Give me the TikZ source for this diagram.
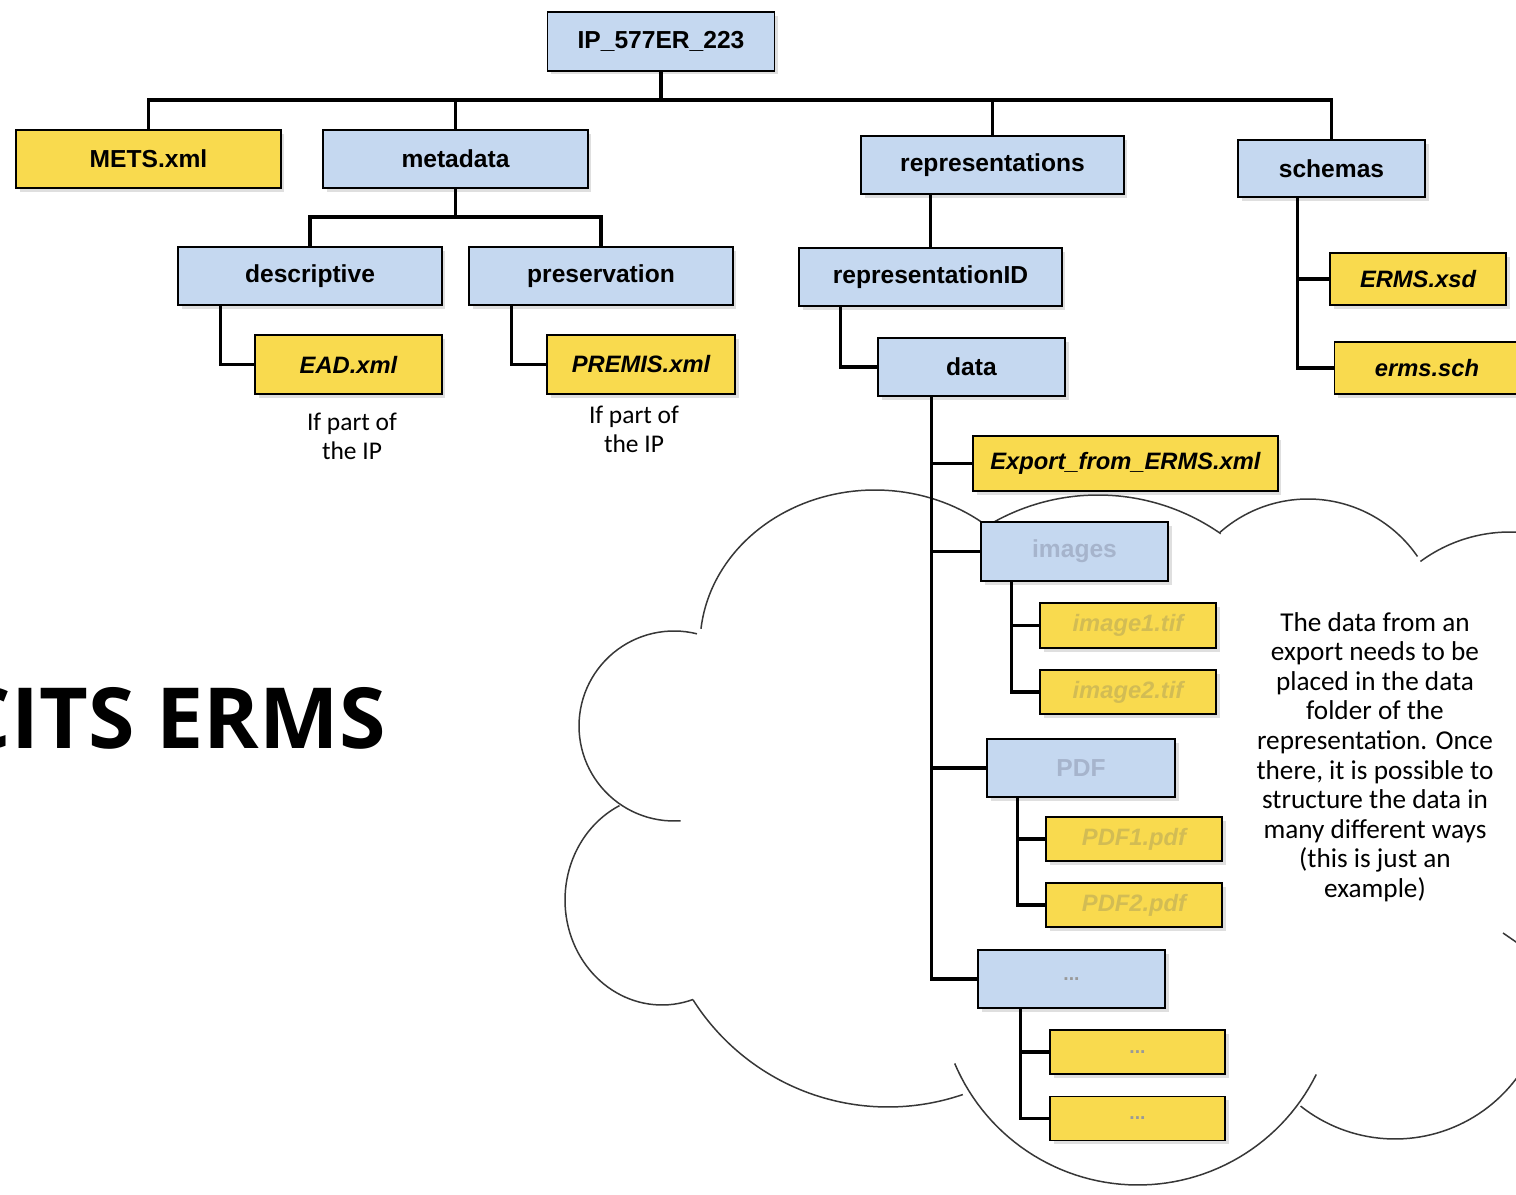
\documentclass[tikz,border=0pt]{standalone}
\usepackage{fontspec}
\usepackage{tikz}
\usetikzlibrary{positioning,calc,shadows}
\newfontfamily\boxfont{Liberation Sans}
\newfontfamily\notefont{Carlito}
\newfontfamily\titlefont{Open Sans}
\definecolor{dirblue}{RGB}{197,216,240}
\definecolor{fileyellow}{RGB}{249,218,78}
\definecolor{fadeblue}{RGB}{166,180,204}
\definecolor{fadeyellow}{RGB}{210,188,84}
\definecolor{cloudgray}{RGB}{55,55,55}
\tikzset{
	box/.style={draw=black, line width=1pt, minimum height=1.16cm, inner sep=0,
		font=\boxfont\bfseries\fontsize{14}{16}\selectfont,
		drop shadow={shadow xshift=2pt, shadow yshift=-2pt, opacity=0.25}},
	dir/.style={box, fill=dirblue},
	file/.style={box, fill=fileyellow, font=\boxfont\bfseries\itshape\fontsize{13.5}{16}\selectfont},
	fadeddir/.style={text=fadeblue},
	fadedfile/.style={text=fadeyellow},
	dots/.style={font=\boxfont\bfseries\fontsize{11}{12}\selectfont, text=black!40},
	link/.style={line width=1.8pt},
	note/.style={align=center, inner sep=0, font=\notefont\fontsize{14.5}{16.5}\selectfont},
	cloudline/.style={draw=cloudgray, line width=0.85pt}
}
\newcommand{\drawdir}{\node[dir]}
\newcommand{\drawfile}{\node[file]}
% one lobe of the cloud: centre x, centre y, radius x, radius y, from angle, to angle
\newcommand{\drawlobe}[6]{\draw[cloudline] plot[domain=#5:#6, samples=60, variable=\t] ({#1+#3*cos(\t)},{#2+#4*sin(\t)});}

\begin{document}
\begin{tikzpicture}[x=0.02cm, y=-0.02cm]
	\useasboundingbox[fill=white] (0,0) rectangle (1516,1195);
	
	% cloud behind the data folder
	\drawlobe{674}{726}{95}{95}{-274}{-76}
	\drawlobe{662}{900}{97}{105}{71.4}{244}
	\drawlobe{875}{645}{175}{155}{186}{312}
	\drawlobe{1098}{709}{214}{214}{238}{305}
	\drawlobe{1308}{632}{133}{133}{228.5}{325.4}
	\drawlobe{1510}{683}{151}{151}{233.6}{330}
	\drawlobe{1395}{987}{152}{152}{0}{128.4}
	\drawlobe{1138}{986}{199}{199}{26.4}{157.1}
	\drawlobe{888}{876}{231}{231}{71.1}{147.6}
	\draw[cloudline] (1503,933) -- (1532,953);
	
	\drawdir (root) at (661,41.5) [minimum width=4.54cm, minimum height=1.18cm] {IP\_577ER\_223};
	\drawfile (mets) at (148.5,159) [minimum width=5.3cm, font=\boxfont\bfseries\fontsize{14}{16}\selectfont] {METS.xml};
	\drawdir (metadata) at (455.5,159) [minimum width=5.3cm] {metadata};
	\drawdir (reps) at (992.5,165) [minimum width=5.26cm] {representations};
	\drawdir (schemas) at (1331.5,168.5) [minimum width=3.74cm, minimum height=1.14cm] {schemas};
	
	\drawdir (descr) at (310,276) [minimum width=5.28cm] {descriptive};
	\drawdir (pres) at (601,276) [minimum width=5.28cm] {preservation};
	\drawfile (ead) at (348.5,364.5) [minimum width=3.74cm, minimum height=1.18cm] {EAD.xml};
	\drawfile (premis) at (641,364.5) [minimum width=3.76cm, minimum height=1.18cm] {PREMIS.xml};
	\node[note] (ifead) at (352,436) {If part of\\the IP};
	\node[note] (ifpremis) at (634,429) {If part of\\the IP};
	
	\drawdir (repid) at (930.5,277) [minimum width=5.26cm] {representationID};
	\drawdir (data) at (971.5,367) [minimum width=3.74cm] {data};
	\drawfile (xsd) at (1418,279) [minimum width=3.52cm, minimum height=1.04cm] {ERMS.xsd};
	\drawfile (sch) at (1427,368) [minimum width=3.7cm, minimum height=1.04cm] {erms.sch};
	
	\drawfile (export) at (1125.5,463.5) [minimum width=6.1cm, minimum height=1.1cm] {Export\_from\_ERMS.xml};
	\drawdir (images) at (1074.5,551.5) [minimum width=3.74cm, minimum height=1.18cm, fadeddir] {images};
	\drawfile (img1) at (1128,625.5) [minimum width=3.52cm, minimum height=0.9cm, fadedfile] {image1.tif};
	\drawfile (img2) at (1128,692) [minimum width=3.52cm, minimum height=0.88cm, fadedfile] {image2.tif};
	\drawdir (pdf) at (1081,768) [minimum width=3.76cm, fadeddir] {PDF};
	\drawfile (pdf1) at (1134,839) [minimum width=3.52cm, minimum height=0.88cm, fadedfile] {PDF1.pdf};
	\drawfile (pdf2) at (1134,905) [minimum width=3.52cm, minimum height=0.88cm, fadedfile] {PDF2.pdf};
	\drawdir (more) at (1071.5,979) [minimum width=3.74cm, dots] {...};
	\drawfile (more1) at (1137.5,1052) [minimum width=3.5cm, minimum height=0.88cm, dots] {...};
	\drawfile (more2) at (1137.5,1118.5) [minimum width=3.5cm, minimum height=0.88cm, dots] {...};
	
	\node[note, font=\notefont\fontsize{15.5}{16.85}\selectfont] (cloudnote) at (1375,757) {The data from an\\export needs to be\\placed in the data\\folder of the\\representation. Once\\there, it is possible to\\structure the data in\\many different ways\\(this is just an\\example)};
	
	\node[anchor=base east, inner sep=0, font=\titlefont\bfseries\fontsize{48}{50}\selectfont] (title) at (386,749) {CITS ERMS};
	
	\coordinate (bus) at (661,100);
	\coordinate (mbus) at (455.5,217);
	\draw[link] (root.south) -- (bus);
	\draw[link] (mets.north) |- (bus) -| (schemas.north);
	\draw[link] (metadata.north) -- (metadata.north |- bus);
	\draw[link] (reps.north) -- (reps.north |- bus);
	
	\draw[link] (metadata.south) -- (mbus);
	\draw[link] (descr.north) |- (mbus) -| (pres.north);
	\draw[link] ($(descr.south west)+(43,0)$) |- (ead.west);
	\draw[link] ($(pres.south west)+(43,0)$) |- (premis.west);
	
	\draw[link] (repid.north) -- (repid.north |- reps.south);
	\draw[link] ($(repid.south west)+(42,0)$) |- (data.west);
	\draw[link] ($(schemas.south west)+(60,0)$) |- (xsd.west);
	\draw[link] ($(schemas.south west)+(60,0)$) |- (sch.west);
	
	\coordinate (spine) at ($(data.south west)+(54,0)$);
	\draw[link] (spine) |- (export.west);
	\draw[link] (spine) |- (images.west);
	\draw[link] (spine) |- (pdf.west);
	\draw[link] (spine) |- (more.west);
	\draw[link] ($(images.south west)+(31,0)$) |- (img1.west);
	\draw[link] ($(images.south west)+(31,0)$) |- (img2.west);
	\draw[link] ($(pdf.south west)+(31,0)$) |- (pdf1.west);
	\draw[link] ($(pdf.south west)+(31,0)$) |- (pdf2.west);
	\draw[link] ($(more.south west)+(43,0)$) |- (more1.west);
	\draw[link] ($(more.south west)+(43,0)$) |- (more2.west);
	
\end{tikzpicture}
\end{document}
